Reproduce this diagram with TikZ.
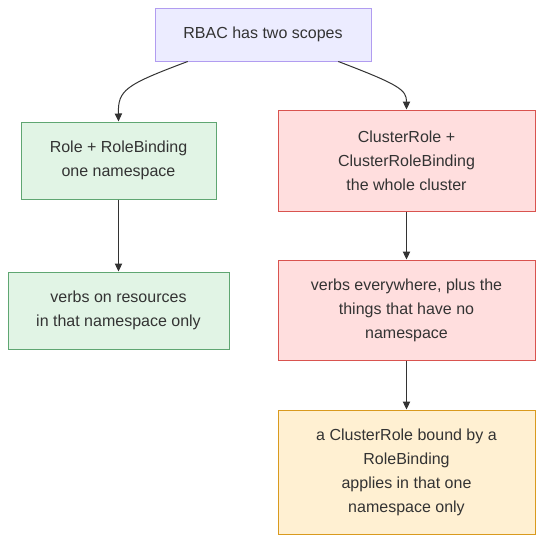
\documentclass[tikz,border=0pt]{standalone}
\usepackage{fontspec}
\setmainfont{Liberation Sans}
\usetikzlibrary{arrows.meta,calc}
\definecolor{txt}{HTML}{333333}
\definecolor{topfill}{HTML}{ECECFF}
\definecolor{topdraw}{HTML}{B19CF0}
\definecolor{grfill}{HTML}{E1F4E5}
\definecolor{grdraw}{HTML}{5FA672}
\definecolor{rdfill}{HTML}{FFDEDE}
\definecolor{rddraw}{HTML}{D9534F}
\definecolor{ylfill}{HTML}{FFF0D2}
\definecolor{yldraw}{HTML}{D99A1E}
\definecolor{edge}{HTML}{333333}
\begin{document}
\begin{tikzpicture}[x=0.75pt,y=-0.75pt,
  box/.style={draw, line width=0.75pt, inner sep=0pt, align=center, text=txt,
    font=\fontsize{12}{18}\selectfont},
  topbox/.style={box, fill=topfill, draw=topdraw},
  grbox/.style={box, fill=grfill, draw=grdraw},
  rdbox/.style={box, fill=rdfill, draw=rddraw},
  ylbox/.style={box, fill=ylfill, draw=yldraw},
  conn/.style={draw=edge, line width=0.75pt, -{Triangle[length=6pt,width=5.5pt]}}]
\useasboundingbox (0,0) rectangle (551,550);
\node[topbox, minimum width=162pt, minimum height=39.75pt] (top) at (263,34.5) {RBAC has two scopes};
\node[grbox, minimum width=146.25pt, minimum height=57.75pt] (g1) at (118.5,160.5) {Role + RoleBinding\\one namespace};
\node[rdbox, minimum width=192.75pt, minimum height=75.75pt] (r1) at (406.5,160.5) {ClusterRole +\\ClusterRoleBinding\\the whole cluster};
\node[grbox, minimum width=165.75pt, minimum height=57.75pt] (g2) at (118.5,310.5) {verbs on resources\\in that namespace only};
\node[rdbox, minimum width=192.75pt, minimum height=75pt] (r2) at (406.5,310) {verbs everywhere, plus the\\things that have no\\namespace};
\node[ylbox, minimum width=192.75pt, minimum height=93pt] (y1) at (406.5,472) {a ClusterRole bound by a\\RoleBinding\\applies in that one\\namespace only};
\coordinate (tl) at ($(top.south west)!0.153!(top.south east)$);
\coordinate (tr) at ($(top.south west)!0.847!(top.south east)$);
\draw[conn] (tl) .. controls (125,85) and (118,90) .. (g1.north);
\draw[conn] (tr) .. controls (400,85) and (406.5,90) .. (r1.north);
\draw[conn] (g1) -- (g2);
\draw[conn] (r1) -- (r2);
\draw[conn] (r2) -- (y1);
\end{tikzpicture}
\end{document}
